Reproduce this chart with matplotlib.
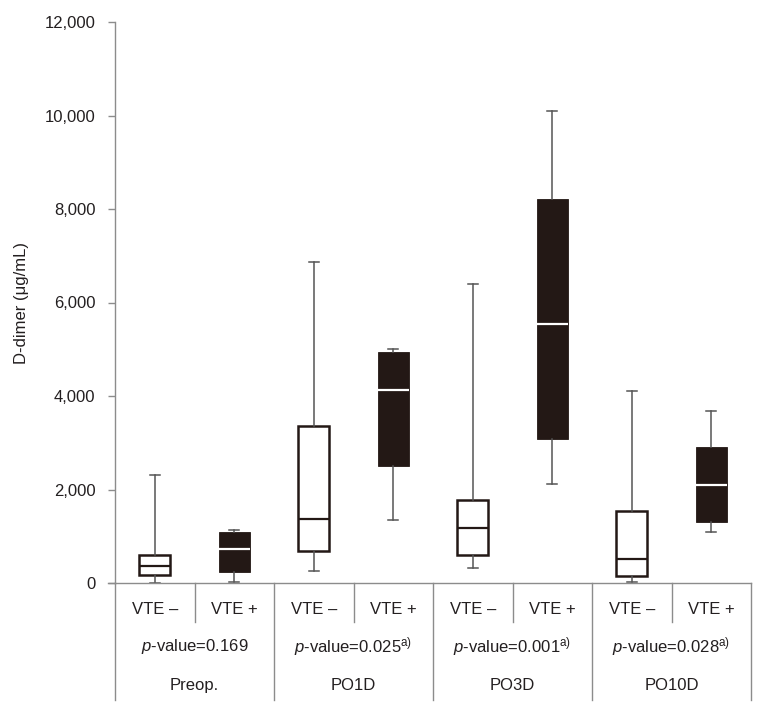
import matplotlib
matplotlib.use("Agg")
import matplotlib.pyplot as plt
from matplotlib.ticker import FuncFormatter

plt.rcParams['font.family'] = ['Liberation Sans', 'DejaVu Sans']
plt.rcParams['mathtext.fontset'] = 'custom'
plt.rcParams['mathtext.rm'] = 'Liberation Sans'
plt.rcParams['mathtext.it'] = 'Liberation Sans:italic'

# ---- data ----
groups = ["Preop.", "PO1D", "PO3D", "PO10D"]
subgroups = ["VTE \u2013", "VTE +"]
p_values = ["0.169", "0.025", "0.001", "0.028"]
p_note = [False, True, True, True]

whislo = [10, 28, 257, 1348, 321, 2111, 15, 1091]
q1     = [171, 229, 691, 2510, 599, 3080, 150, 1311]
med    = [370, 727, 1375, 4128, 1170, 5533, 507, 2103]
q3     = [599, 1091, 3358, 4935, 1775, 8207, 1540, 2909]
whishi = [2317, 1134, 6866, 5005, 6396, 10096, 4113, 3679]
y_ticks = [0, 2000, 4000, 6000, 8000, 10000, 12000]

dark = '#231815'
gray = '#8c8c8c'
txt = '#231f20'

fig = plt.figure(figsize=(7.62, 7.16), dpi=100)
ax = fig.add_axes([115/762, (716-583)/716, 636/762, 561/716])

n = len(med)
positions = [i + 0.5 for i in range(n)]
for i in range(n):
    st = [dict(whislo=whislo[i], q1=q1[i], med=med[i], q3=q3[i], whishi=whishi[i], fliers=[])]
    filled = (i % 2 == 1)
    ax.bxp(st, positions=[positions[i]], widths=0.39, capwidths=0.12,
           showfliers=False, patch_artist=True,
           boxprops=dict(facecolor=dark if filled else 'white', edgecolor=dark,
                         linewidth=0.6 if filled else 1.8),
           medianprops=dict(color='white' if filled else dark, linewidth=1.6),
           whiskerprops=dict(color='#555555', linewidth=1.1),
           capprops=dict(color='#555555', linewidth=1.1))

ax.set_xlim(0, 8)
ax.set_ylim(0, 12000)
ax.set_yticks(y_ticks)
ax.yaxis.set_major_formatter(FuncFormatter(lambda v, p: f"{int(v):,}"))
ax.set_xticks([])
for s in ['top', 'right']:
    ax.spines[s].set_visible(False)
for s in ['left', 'bottom']:
    ax.spines[s].set_color(gray)
    ax.spines[s].set_linewidth(1.0)
ax.tick_params(axis='y', direction='out', length=5, width=1.0, color=gray,
               labelsize=12, labelcolor=txt, pad=9)
ax.set_ylabel("D-dimer (\u03bcg/mL)", fontsize=12, color=txt, labelpad=11)

trans = ax.get_xaxis_transform()
# group separators
for xg in [0, 2, 4, 6, 8]:
    ax.plot([xg, xg], [0, -0.2086], transform=trans, color=gray, lw=1.0, clip_on=False)
for xs in [1, 3, 5, 7]:
    ax.plot([xs, xs], [0, -0.0695], transform=trans, color=gray, lw=1.0, clip_on=False)
# extend x axis line slightly left
ax.plot([-0.09, 0], [0, 0], transform=trans, color=gray, lw=1.0, clip_on=False)

for i in range(n):
    ax.text(positions[i], -0.048, subgroups[i % 2], transform=trans, ha='center', va='center',
            fontsize=12, color=txt)
for g in range(len(groups)):
    s = r"$\mathit{p}$-value=" + p_values[g]
    if p_note[g]:
        s += r"$^{\mathrm{a)}}$"
    ax.text(2 * g + 1, -0.114, s, transform=trans, ha='center', va='center', fontsize=12, color=txt)
    ax.text(2 * g + 1, -0.182, groups[g], transform=trans, ha='center', va='center', fontsize=12, color=txt)

fig.savefig("out.png", dpi=100)
